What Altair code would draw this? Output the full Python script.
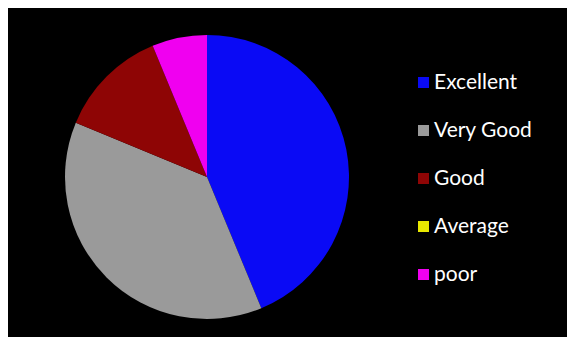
import altair as alt
import pandas as pd

categories = ["Excellent", "Very Good", "Good", "Average", "poor"]
counts = [14, 12, 4, 0, 2]
colors = ["#0a0af5", "#9a9a9a", "#8e0505", "#e8e800", "#f000f0"]

df = pd.DataFrame({"rating": categories, "count": counts, "idx": list(range(len(categories)))})

chart = alt.Chart(df).mark_arc(x=199, y=169, radius=142).encode(
    theta=alt.Theta("count:Q", stack=True),
    order=alt.Order("idx:Q"),
    color=alt.Color(
        "rating:N",
        scale=alt.Scale(domain=categories, range=colors),
        sort=categories,
        legend=alt.Legend(
            title=None,
            orient="none",
            legendX=405,
            legendY=64,
            symbolType="square",
            symbolSize=121,
            symbolStrokeWidth=0,
            labelColor="white",
            labelFont="Lato",
            labelFontSize=21,
            labelOffset=0,
            rowPadding=26,
            padding=0,
        ),
    ),
).properties(
    width=559,
    height=329,
    background="black",
    padding=0,
    autosize=alt.AutoSizeParams(type="none"),
).configure_view(stroke=None)

chart.save("out.html", embed_options={"renderer": "svg", "actions": False})
